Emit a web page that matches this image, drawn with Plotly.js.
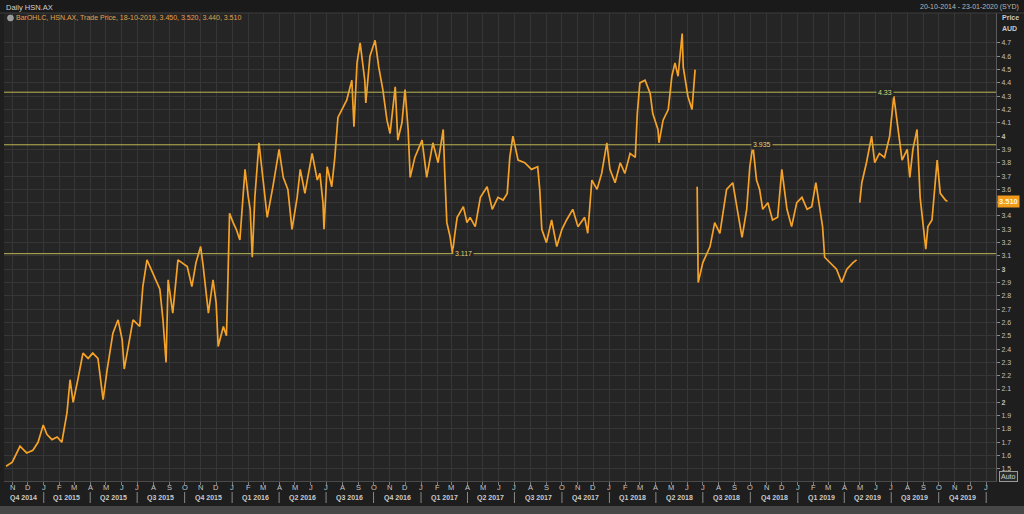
<!DOCTYPE html>
<html>
<head>
<meta charset="utf-8">
<script src="https://cdn.plot.ly/plotly-3.0.1.min.js"></script>
<style>
html,body{margin:0;padding:0;background:#1c1c1c;}
#chart{width:1024px;height:514px;}
</style>
</head>
<body>
<div id="chart"></div>
<script>
// ---- data (daily HSN.AX, trade price, AUD) ----
const dates = [
"2014-10-20","2014-11-01","2014-11-16","2014-11-29","2014-12-11","2014-12-21","2014-12-31",
"2015-01-07","2015-01-17","2015-01-27","2015-02-05","2015-02-15","2015-02-21","2015-02-27",
"2015-03-08","2015-03-18","2015-03-28","2015-04-06","2015-04-16","2015-04-26","2015-05-04",
"2015-05-15","2015-05-25","2015-06-02","2015-06-06","2015-06-17","2015-06-23","2015-07-06",
"2015-07-12","2015-07-20","2015-08-01","2015-08-14","2015-08-20","2015-08-26","2015-08-30",
"2015-09-08","2015-09-18","2015-10-06","2015-10-15","2015-10-23","2015-11-01","2015-11-06",
"2015-11-16","2015-11-25","2015-12-01","2015-12-05","2015-12-15","2015-12-21","2015-12-23",
"2015-12-27","2016-01-03","2016-01-09","2016-01-16","2016-01-26","2016-02-01","2016-02-05",
"2016-02-09","2016-02-14","2016-02-22","2016-03-01","2016-03-09","2016-03-20","2016-04-01",
"2016-04-09","2016-04-18","2016-04-26","2016-05-06","2016-05-12","2016-05-21","2016-06-04",
"2016-06-14","2016-06-19","2016-06-25","2016-06-27","2016-07-03","2016-07-12","2016-07-18",
"2016-07-24","2016-08-03","2016-08-10","2016-08-20","2016-08-24","2016-08-30","2016-09-05",
"2016-09-14","2016-09-16","2016-09-24","2016-10-04","2016-10-11","2016-10-19","2016-10-27",
"2016-11-02","2016-11-12","2016-11-17","2016-11-25","2016-12-01","2016-12-07","2016-12-11",
"2016-12-20","2017-01-03","2017-01-12","2017-01-24","2017-02-03","2017-02-13","2017-02-16",
"2017-02-20","2017-02-26","2017-03-03","2017-03-07","2017-03-12","2017-03-24","2017-03-31",
"2017-04-06","2017-04-16","2017-04-26","2017-05-09","2017-05-19","2017-05-30","2017-06-09",
"2017-06-17","2017-06-22","2017-06-28","2017-07-08","2017-07-21","2017-08-03","2017-08-15",
"2017-08-19","2017-08-23","2017-09-01","2017-09-11","2017-09-21","2017-10-01","2017-10-10",
"2017-10-22","2017-11-01","2017-11-14","2017-11-20","2017-11-28","2017-12-08","2017-12-17",
"2017-12-27","2018-01-02","2018-01-12","2018-01-22","2018-01-31","2018-02-10","2018-02-20",
"2018-02-24","2018-03-01","2018-03-11","2018-03-21","2018-03-26","2018-04-05","2018-04-07",
"2018-04-15","2018-04-25","2018-05-02","2018-05-08","2018-05-14","2018-05-22","2018-05-24",
"2018-06-02","2018-06-10","2018-06-16","2018-06-18","2018-06-20","2018-06-22","2018-07-01",
"2018-07-15","2018-07-24","2018-08-03","2018-08-16","2018-08-28","2018-09-07","2018-09-15",
"2018-09-24","2018-09-30","2018-10-06","2018-10-13","2018-10-19","2018-10-25","2018-11-04",
"2018-11-13","2018-11-23","2018-12-01","2018-12-11","2018-12-20","2018-12-30","2019-01-09",
"2019-01-19","2019-01-28","2019-02-05","2019-02-12","2019-02-18","2019-02-22","2019-03-04",
"2019-03-17","2019-03-27","2019-04-06","2019-04-18","2019-04-25","2019-04-28","2019-05-01",
"2019-05-05","2019-05-14","2019-05-24","2019-05-30","2019-06-08","2019-06-18","2019-06-28",
"2019-07-06","2019-07-14","2019-07-22","2019-08-01","2019-08-06","2019-08-12","2019-08-20",
"2019-08-26","2019-09-01","2019-09-06","2019-09-10","2019-09-18","2019-09-28","2019-10-04",
"2019-10-14","2019-10-18"
];
const prices = [
1.52,1.55,1.67,1.62,1.64,1.70,1.83,
1.76,1.72,1.74,1.70,1.92,2.17,2.00,
2.17,2.37,2.33,2.37,2.33,2.02,2.25,
2.52,2.62,2.47,2.25,2.49,2.62,2.57,
2.87,3.07,2.97,2.85,2.62,2.30,2.92,
2.67,3.07,3.02,2.87,3.05,3.17,3.02,
2.67,2.92,2.75,2.42,2.57,2.50,2.79,
3.42,3.35,3.30,3.22,3.75,3.55,3.45,
3.09,3.54,3.95,3.67,3.39,3.62,3.90,
3.69,3.60,3.30,3.54,3.75,3.57,3.87,
3.67,3.72,3.50,3.30,3.77,3.62,3.84,
4.14,4.22,4.27,4.42,4.07,4.55,4.70,
4.42,4.25,4.60,4.72,4.52,4.35,4.12,
4.02,4.37,3.97,4.10,4.35,4.05,3.69,
3.84,3.97,3.69,3.95,3.80,4.05,3.72,
3.35,3.25,3.12,3.25,3.39,3.47,3.35,
3.39,3.32,3.54,3.62,3.45,3.54,3.52,
3.57,3.84,4.00,3.82,3.80,3.75,3.77,
3.60,3.30,3.20,3.37,3.17,3.30,3.37,
3.45,3.32,3.39,3.27,3.67,3.60,3.72,
3.95,3.75,3.65,3.80,3.72,3.87,3.84,
4.17,4.40,4.42,4.32,4.17,4.05,3.95,
4.12,4.20,4.45,4.55,4.45,4.77,4.52,
4.30,4.20,4.50,null,3.62,2.90,3.05,
3.17,3.35,3.27,3.60,3.65,3.42,3.24,
3.45,3.77,3.93,3.67,3.60,3.45,3.50,
3.37,3.39,3.75,3.45,3.32,3.50,3.54,
3.45,3.47,3.65,3.47,3.32,3.09,3.05,
3.00,2.90,3.00,3.05,3.07,null,3.50,
3.65,3.80,4.00,3.80,3.87,3.84,4.00,
4.30,4.07,3.82,3.90,3.69,3.90,4.05,
3.54,3.35,3.15,3.32,3.37,3.82,3.57,
3.52,3.51
];
const lastPrice = 3.51;
const lastPriceLabel = "3.510";
const levelValues = [4.33, 3.935, 3.117];
const levelLabels = ["4.33", "3.935", "3.117"];
const levelLabelDates = ["2019-06-19", "2018-10-23", "2017-03-25"];
const yTickValues = [1.5,1.6,1.7,1.8,1.9,2,2.1,2.2,2.3,2.4,2.5,2.6,2.7,2.8,2.9,3,3.1,3.2,3.3,3.4,3.5,3.6,3.7,3.8,3.9,4,4.1,4.2,4.3,4.4,4.5,4.6,4.7];
// the 3.5 label is hidden behind the last-price box in the reference
const yTickLabels = ["1.5","1.6","1.7","1.8","1.9","<b>2</b>","2.1","2.2","2.3","2.4","2.5","2.6","2.7","2.8","2.9","<b>3</b>","3.1","3.2","3.3","3.4","","3.6","3.7","3.8","3.9","<b>4</b>","4.1","4.2","4.3","4.4","4.5","4.6","4.7"];
const monthLetters = ["J","F","M","A","M","J","J","A","S","O","N","D"];
const titleText = "Daily HSN.AX";
const rangeText = "20-10-2014 - 23-01-2020 (SYD)";
const legendText = "BarOHLC, HSN.AX, Trade Price, 18-10-2019, 3.450, 3.520, 3.440, 3.510";

// ---- layout helpers ----
const xStart = "2014-10-16", xEnd = "2020-01-20";
const H = 514, T = 13, B = 33;            // plot area: y 13..481 px
const plotH = H - T - B;
const py = px => (H - B - px) / plotH;    // pixel row -> paper y
const pad = n => (n < 10 ? "0" : "") + n;
const font = "Liberation Sans, Arial, sans-serif";
const annotations = [], shapes = [];
const monthTicks = [];
for (let y = 2014; y <= 2020; y++) {
  for (let m = 1; m <= 12; m++) {
    const d = y + "-" + pad(m) + "-01";
    if (d > xStart && d < xEnd) {
      monthTicks.push(d);
      annotations.push({x: d, y: py(487), xref: "x", yref: "paper", text: monthLetters[m - 1], showarrow: false,
        yanchor: "middle", font: {family: font, size: 7.5, color: "#c4c4c4"}});
    }
  }
}
const toMs = s => new Date(s + "T00:00:00Z").getTime();
const msToStr = ms => new Date(ms).toISOString().slice(0, 10);
// quarter labels and separators
for (let y = 2014; y <= 2019; y++) {
  for (let q = 1; q <= 4; q++) {
    const qs = y + "-" + pad((q - 1) * 3 + 1) + "-01";
    const qe = (q === 4 ? (y + 1) + "-01-01" : y + "-" + pad(q * 3 + 1) + "-01");
    if (qe <= xStart) continue;
    const a = Math.max(toMs(qs), toMs(xStart)), b = Math.min(toMs(qe), toMs(xEnd));
    annotations.push({x: msToStr((a + b) / 2), y: py(497.5), xref: "x", yref: "paper", text: "<b>Q" + q + " " + y + "</b>",
      showarrow: false, font: {family: font, size: 7, color: "#cacaca"}, yanchor: "middle"});
    shapes.push({type: "line", xref: "x", yref: "paper", x0: qe, x1: qe, y0: py(492), y1: py(503),
      line: {color: "#8a8a8a", width: 1}});
  }
}
// horizontal level lines
levelValues.forEach((v, i) => {
  shapes.push({type: "line", xref: "paper", yref: "y", x0: 0, x1: 1, y0: v, y1: v,
    line: {color: "#bdb552", width: 1}});
  annotations.push({x: levelLabelDates[i], y: v, xref: "x", yref: "y", text: levelLabels[i], showarrow: false,
    bgcolor: "#252525", borderpad: 1, font: {family: font, size: 7, color: "#dcd67a"}});
});
// top strip and bottom strip
shapes.push({type: "rect", xref: "paper", yref: "paper", x0: -0.01, x1: 1.04, y0: 1.0, y1: 1.03, fillcolor: "#1a1a1a", line: {width: 0}, layer: "below"});
shapes.push({type: "line", xref: "paper", yref: "paper", x0: -0.01, x1: 1.04, y0: 1.0, y1: 1.0, line: {color: "#3c3c3c", width: 1}});
shapes.push({type: "rect", xref: "paper", yref: "paper", x0: -0.01, x1: 1.04, y0: py(514), y1: py(506), fillcolor: "#474747", line: {width: 0}});
// texts
annotations.push({xref: "paper", yref: "paper", x: 0, y: py(7), xanchor: "left", yanchor: "middle", text: titleText,
  showarrow: false, font: {family: font, size: 7.5, color: "#d0d0d0"}});
annotations.push({xref: "paper", yref: "paper", x: 1.025, y: py(7), xanchor: "right", yanchor: "middle", text: rangeText,
  showarrow: false, font: {family: font, size: 7, color: "#b8b8b8"}});
annotations.push({xref: "paper", yref: "paper", x: 0.01, y: py(18), xanchor: "left", yanchor: "middle", text: legendText,
  showarrow: false, font: {family: font, size: 7, color: "#e2a04c"}});
shapes.push({type: "circle", xref: "paper", yref: "paper", x0: 0.0035, x1: 0.0095, y0: py(21), y1: py(15), fillcolor: "#9a9a9a", line: {color: "#c0c0c0", width: 0.5}});
annotations.push({xref: "paper", yref: "paper", x: 1.004, y: py(18), xanchor: "left", yanchor: "middle", text: "<b>Price</b>",
  showarrow: false, font: {family: font, size: 7, color: "#c8c8c8"}});
annotations.push({xref: "paper", yref: "paper", x: 1.004, y: py(28), xanchor: "left", yanchor: "middle", text: "<b>AUD</b>",
  showarrow: false, font: {family: font, size: 7, color: "#c8c8c8"}});
annotations.push({xref: "paper", yref: "y", x: 1.001, y: lastPrice, xanchor: "left", yanchor: "middle", text: "<b>" + lastPriceLabel + "</b>",
  showarrow: false, bgcolor: "#f29a1a", borderpad: 1, font: {family: font, size: 7.5, color: "#fff4dc"}});
annotations.push({xref: "paper", yref: "paper", x: 1.0035, y: py(476), xanchor: "left", yanchor: "middle", text: "Auto",
  showarrow: false, bordercolor: "#9a9a9a", borderwidth: 1, borderpad: 1, bgcolor: "#2a2a2a", font: {family: font, size: 7, color: "#d0d0d0"}});

const trace = {
  x: dates, y: prices, type: "scatter", mode: "lines", connectgaps: false,
  line: {color: "#f5a229", width: 1.7}, hoverinfo: "skip"
};

const layout = {
  width: 1024, height: H,
  margin: {l: 4, r: 28, t: T, b: B},
  paper_bgcolor: "#1e1e1e", plot_bgcolor: "#252525",
  showlegend: false,
  font: {family: font, size: 7, color: "#c0c0c0"},
  xaxis: {
    type: "date", range: [xStart, xEnd], tickmode: "array", tickvals: monthTicks, showticklabels: false,
    showgrid: true, gridcolor: "#363636", gridwidth: 1, zeroline: false,
    ticks: "outside", ticklen: 3, tickcolor: "#7a7a7a",
    showline: true, linecolor: "#4a4a4a", fixedrange: true
  },
  yaxis: {
    side: "right", range: [1.409, 4.925], tickmode: "array", tickvals: yTickValues, ticktext: yTickLabels,
    showgrid: true, gridcolor: "#363636", gridwidth: 1, zeroline: false,
    ticks: "outside", ticklen: 3, tickcolor: "#8a8a8a", tickfont: {family: font, size: 7, color: "#c0c0c0"},
    showline: true, linecolor: "#5a5a5a", fixedrange: true
  },
  shapes: shapes, annotations: annotations
};
Plotly.newPlot("chart", [trace], layout, {staticPlot: true, displayModeBar: false});
</script>
</body>
</html>
